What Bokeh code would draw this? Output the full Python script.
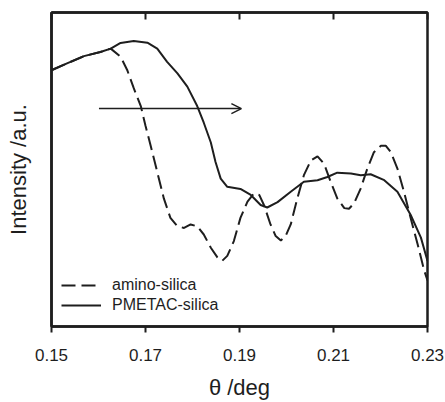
from bokeh.plotting import figure
from bokeh.models import (Range1d, FixedTicker, LinearAxis, Arrow, OpenHead,
                          Legend, LegendItem)
from bokeh.embed import file_html
from bokeh.resources import INLINE

# ---- data ----
x_ticks = [0.15, 0.17, 0.19, 0.21, 0.23]
x_tick_labels = ["0.15", "0.17", "0.19", "0.21", "0.23"]

pmetac_x = [0.1501, 0.1533, 0.1569, 0.1604, 0.1626, 0.1647, 0.1675, 0.1704,
            0.1725, 0.1746, 0.1768, 0.1789, 0.1810, 0.1824, 0.1839, 0.1849,
            0.1860, 0.1874, 0.1902, 0.1924, 0.1945, 0.1959, 0.1981, 0.2009,
            0.2037, 0.2066, 0.2087, 0.2108, 0.2137, 0.2158, 0.2179, 0.2208,
            0.2236, 0.2264, 0.2286, 0.2300]
pmetac_y = [0.817, 0.838, 0.861, 0.874, 0.885, 0.903, 0.909, 0.904,
            0.885, 0.843, 0.806, 0.764, 0.702, 0.649, 0.586, 0.524,
            0.471, 0.445, 0.438, 0.419, 0.387, 0.379, 0.396, 0.429,
            0.461, 0.466, 0.476, 0.490, 0.487, 0.482, 0.485, 0.466,
            0.429, 0.356, 0.283, 0.209]

amino_x = [0.1501, 0.1533, 0.1569, 0.1604, 0.1626, 0.1647, 0.1661, 0.1675,
           0.1690, 0.1700, 0.1711, 0.1725, 0.1739, 0.1753, 0.1768, 0.1782,
           0.1796, 0.1810, 0.1824, 0.1839, 0.1853, 0.1863, 0.1874, 0.1888,
           0.1902, 0.1917, 0.1931, 0.1942, 0.1952, 0.1966, 0.1977, 0.1988,
           0.1998, 0.2009, 0.2023, 0.2037, 0.2052, 0.2066, 0.2080, 0.2094,
           0.2108, 0.2123, 0.2133, 0.2144, 0.2158, 0.2172, 0.2186, 0.2201,
           0.2211, 0.2222, 0.2236, 0.2250, 0.2264, 0.2279, 0.2293, 0.2300]
amino_y = [0.817, 0.838, 0.861, 0.874, 0.885, 0.859, 0.817, 0.759,
           0.702, 0.639, 0.576, 0.492, 0.408, 0.346, 0.319, 0.314,
           0.325, 0.319, 0.293, 0.251, 0.220, 0.209, 0.225, 0.272,
           0.346, 0.398, 0.424, 0.419, 0.387, 0.325, 0.288, 0.274,
           0.288, 0.325, 0.408, 0.482, 0.529, 0.542, 0.518, 0.461,
           0.408, 0.377, 0.375, 0.393, 0.440, 0.503, 0.555, 0.576,
           0.576, 0.555, 0.503, 0.429, 0.346, 0.262, 0.178, 0.147]

arrow_start = (0.1601, 0.694)
arrow_end = (0.1904, 0.694)

INK = "#1e1e1e"
FONT = "Liberation Sans"

p = figure(width=445, height=402, output_backend="svg", toolbar_location=None,
           x_range=Range1d(0.15, 0.23), y_range=Range1d(0, 1),
           min_border_left=51, min_border_right=18, min_border_top=12,
           min_border_bottom=72)
p.grid.visible = False
p.background_fill_color = "white"
p.border_fill_color = "white"
p.outline_line_color = INK
p.outline_line_width = 2.5

# bottom axis
xa = p.xaxis[0]
xa.ticker = FixedTicker(ticks=x_ticks)
xa.major_label_overrides = {t: l for t, l in zip(x_ticks, x_tick_labels)}
xa.axis_line_color = INK
xa.axis_line_width = 2.5
xa.major_tick_in = 0
xa.major_tick_out = 6
xa.major_tick_line_width = 2
xa.major_tick_line_color = INK
xa.minor_tick_line_color = None
xa.major_label_text_font = FONT
xa.major_label_text_font_size = "17px"
xa.major_label_text_color = INK
xa.major_label_standoff = 16
xa.axis_label = "θ /deg"
xa.axis_label_text_font = FONT
xa.axis_label_text_font_size = "22px"
xa.axis_label_text_font_style = "normal"
xa.axis_label_text_color = INK
xa.axis_label_standoff = 11

# left axis (no ticks)
ya = p.yaxis[0]
ya.ticker = FixedTicker(ticks=[])
ya.axis_line_color = INK
ya.axis_line_width = 2.5
ya.major_tick_line_color = None
ya.minor_tick_line_color = None
ya.axis_label = "Intensity /a.u."
ya.axis_label_text_font = FONT
ya.axis_label_text_font_size = "22px"
ya.axis_label_text_font_style = "normal"
ya.axis_label_text_color = INK
ya.axis_label_standoff = 21

# top axis with inward ticks, no labels
top = LinearAxis(ticker=FixedTicker(ticks=x_ticks))
top.axis_line_color = INK
top.axis_line_width = 2.5
top.major_tick_in = 7
top.major_tick_out = 0
top.major_tick_line_width = 2
top.major_tick_line_color = INK
top.minor_tick_line_color = None
top.major_label_overrides = {t: "" for t in x_ticks}
top.major_label_standoff = 0
p.add_layout(top, "above")

r_amino = p.line(amino_x, amino_y, line_color=INK, line_width=2,
                 line_dash="14 6")
r_pm = p.line(pmetac_x, pmetac_y, line_color=INK, line_width=2)

p.add_layout(Arrow(x_start=arrow_start[0], y_start=arrow_start[1],
                   x_end=arrow_end[0], y_end=arrow_end[1],
                   line_color=INK, line_width=1.5,
                   end=OpenHead(size=10, line_color=INK, line_width=1.5)))

legend = Legend(items=[LegendItem(label="amino-silica", renderers=[r_amino]),
                       LegendItem(label="PMETAC-silica", renderers=[r_pm])],
                location=(10, 11), padding=0, margin=0, spacing=-3,
                glyph_width=40, glyph_height=20, label_height=20,
                label_standoff=11, border_line_color=None,
                background_fill_alpha=0,
                label_text_font=FONT, label_text_font_size="16px",
                label_text_color=INK)
p.add_layout(legend, "center")

open("out.html", "w").write(file_html(p, INLINE))
